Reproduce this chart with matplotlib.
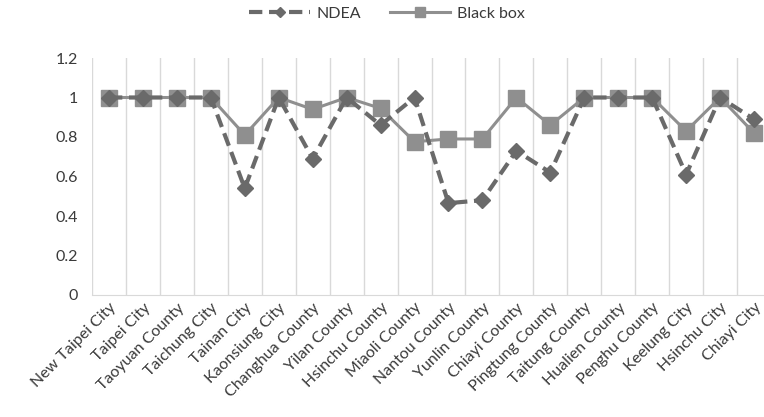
import matplotlib
matplotlib.use("Agg")
import matplotlib.pyplot as plt
import numpy as np

categories = ["New Taipei City", "Taipei City", "Taoyuan County", "Taichung City", "Tainan City",
              "Kaonsiung City", "Changhua County", "Yilan County", "Hsinchu County", "Miaoli County",
              "Nantou County", "Yunlin County", "Chiayi County", "Pingtung County", "Taitung County",
              "Hualien County", "Penghu County", "Keelung City", "Hsinchu City", "Chiayi City"]
ndea = [1, 1, 1, 1, 0.54, 1, 0.69, 1, 0.86, 1.0, 0.465, 0.48, 0.73, 0.62, 1, 1, 1, 0.61, 1, 0.89]
black_box = [1, 1, 1, 1, 0.81, 1, 0.94, 1, 0.945, 0.776, 0.79, 0.79, 1.0, 0.86, 1, 1, 1, 0.83, 1, 0.82]
yticks = [0, 0.2, 0.4, 0.6, 0.8, 1.0, 1.2]
ytick_labels = ["0", "0.2", "0.4", "0.6", "0.8", "1", "1.2"]

plt.rcParams['font.family'] = ['Lato', 'DejaVu Sans']
text_color = "#3a3a3a"

fig = plt.figure(figsize=(7.64, 4.17), dpi=100)
ax = fig.add_axes([92 / 764, 1 - 295 / 417, (771 - 92) / 764, (295 - 58) / 417])

x = np.arange(len(categories))
ax.plot(x, black_box, color="#8f8f8f", lw=2.2, marker="s", markersize=11, label="Black box", zorder=3)
ax.plot(x, ndea, color="#6a6a6a", lw=3.0, ls=(0, (3.2, 1.6)), marker="D", markersize=8.5, label="NDEA", zorder=4)

ax.set_xlim(-0.5, len(categories) - 0.5)
ax.set_ylim(0, 1.2)
ax.set_yticks(yticks)
ax.set_yticklabels(ytick_labels, fontsize=11.5, color=text_color)
ax.set_xticks(x)
ax.set_xticklabels(categories, rotation=45, ha="right", rotation_mode="anchor", fontsize=11.5, color=text_color)
ax.set_xticks(np.arange(-0.5, len(categories)), minor=True)
ax.grid(which="minor", axis="x", color="#d9d9d9", lw=1)
ax.tick_params(axis="both", which="both", length=0)
ax.tick_params(axis="x", pad=4)
ax.tick_params(axis="y", pad=10)
for s in ["top", "right", "left"]:
    ax.spines[s].set_visible(False)
ax.spines["bottom"].set_color("#d9d9d9")

handles, labels = ax.get_legend_handles_labels()
leg = fig.legend(handles[::-1], labels[::-1], loc="center", bbox_to_anchor=(387 / 764, 1 - 14 / 417),
                 ncol=2, frameon=False, fontsize=11.5, handlelength=3.8, columnspacing=1.8,
                 handletextpad=0.4, markerscale=0.65)
for t in leg.get_texts():
    t.set_color(text_color)

fig.savefig("out.png", dpi=100)
